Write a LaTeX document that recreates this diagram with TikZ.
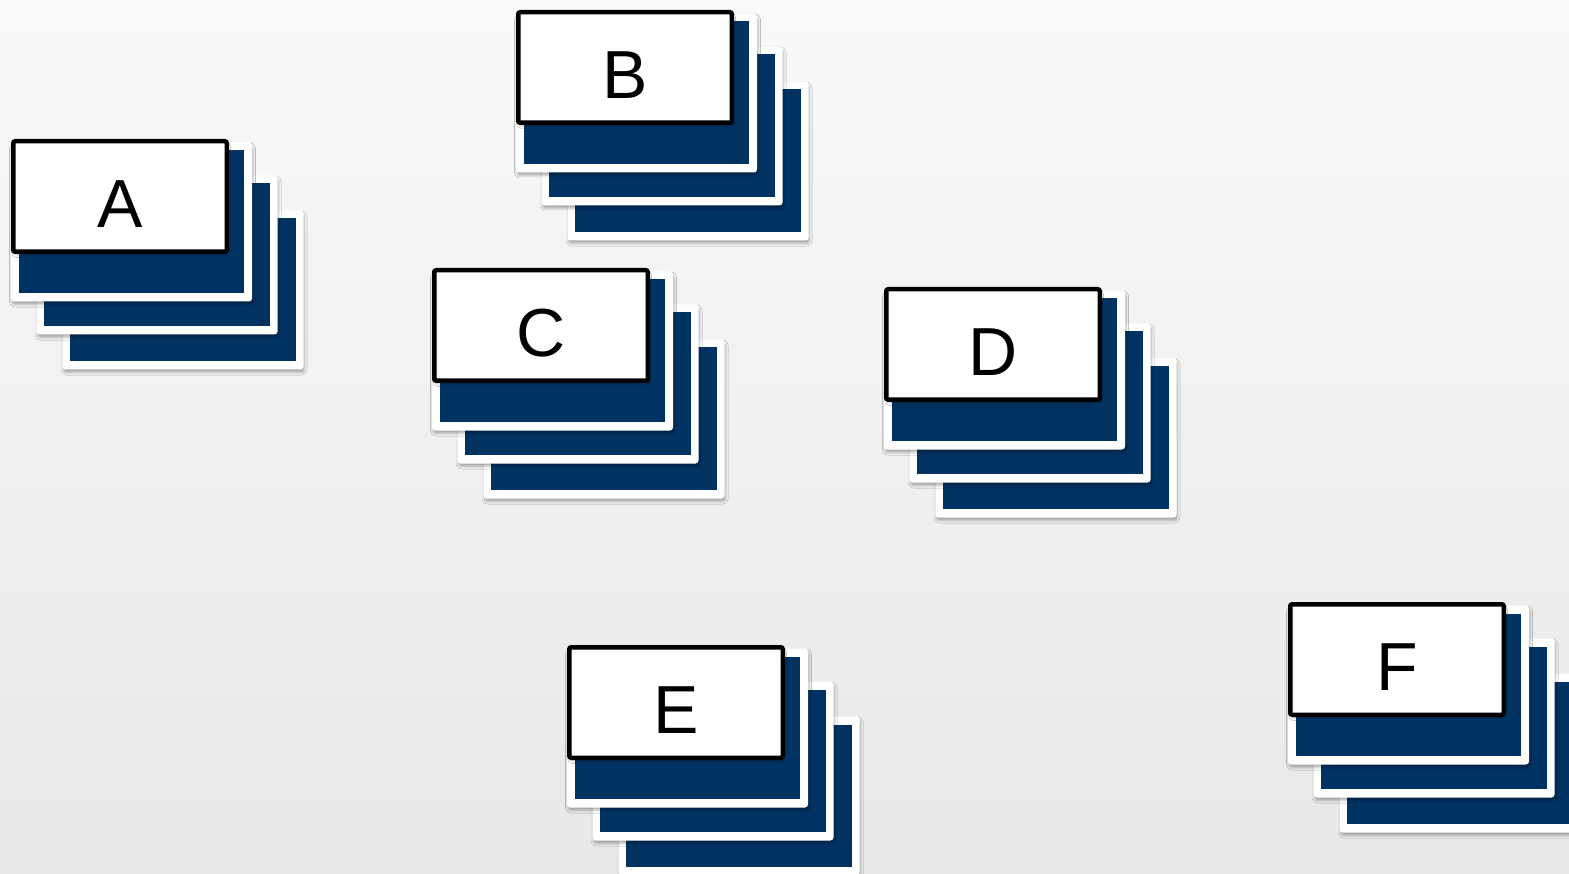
\documentclass[tikz,border=0pt]{standalone}
\usepackage{fontspec}
\setmainfont{Liberation Sans}
\usetikzlibrary{shadows.blur}
\definecolor{cardblue}{RGB}{0,50,98}
\definecolor{bgtop}{HTML}{F9F9F9}
\definecolor{bgbot}{HTML}{E8E8E8}
\tikzset{
  card/.style={fill=white, rounded corners=3pt, anchor=north west, inner sep=0pt, outer sep=0pt,
    minimum width=241pt, minimum height=159pt,
    blur shadow={shadow xshift=1pt, shadow yshift=-3pt, shadow blur radius=2.5pt, shadow opacity=30}},
  cardface/.style={fill=cardblue},
  labelbox/.style={draw=black, line width=4.5pt, fill=white, rounded corners=2pt, anchor=north west,
    inner sep=0pt, outer sep=0pt, minimum width=213.5pt, minimum height=110.5pt,
    font=\fontsize{68}{68}\selectfont, text height=62pt, text depth=0pt,
    blur shadow={shadow xshift=1pt, shadow yshift=-3pt, shadow blur radius=2.5pt, shadow opacity=25}}
}
\newcommand\cardstack[4]{%
  \foreach \i/\dx/\dy in {3/51.5/71.5, 2/25.5/36.5, 1/0/3.5} {
    \node[card] (#1c\i) at ({#2+\dx},{#3+\dy}) {};
    \fill[cardface] ([xshift=7.5pt,yshift=-8pt]#1c\i.north west) rectangle ([xshift=-8pt,yshift=8.5pt]#1c\i.south east);
  }
  \node[labelbox] (#1) at ({#2+2.25},{#3+2.25}) {#4};
}
\begin{document}
\begin{tikzpicture}[x=1pt,y=-1pt]
\useasboundingbox (0,0) rectangle (1569,874);
\clip (0,0) rectangle (1569,874);
\shade[top color=bgtop, bottom color=bgbot] (0,0) rectangle (1569,874);
\cardstack{A}{11}{139}{A}
\cardstack{B}{516}{10}{B}
\cardstack{C}{432}{268}{C}
\cardstack{D}{884}{287}{D}
\cardstack{E}{567}{645}{E}
\cardstack{F}{1288}{602}{F}
\end{tikzpicture}
\end{document}
